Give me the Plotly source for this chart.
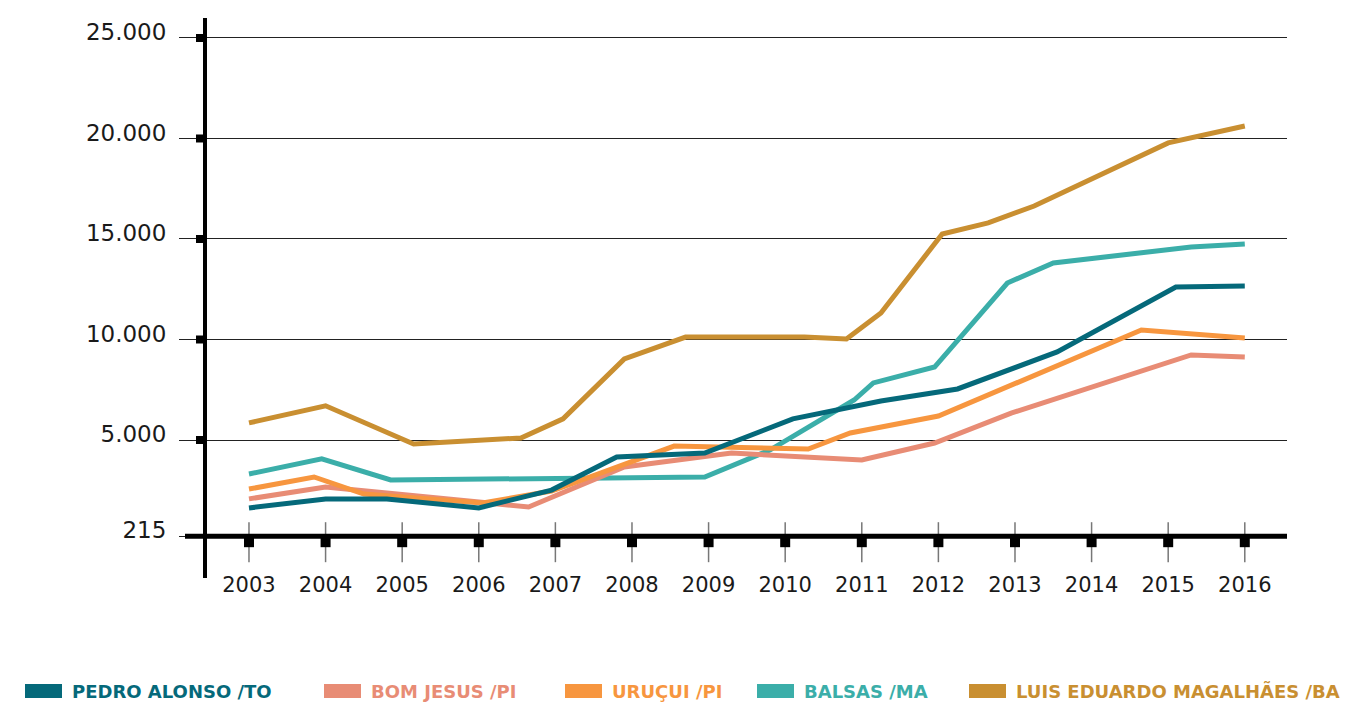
import plotly.graph_objects as go

# ---------------- data ----------------
years = list(range(2003, 2017))
ytick_vals = [215, 5000, 10000, 15000, 20000, 25000]
ytick_text = ["215", "5.000", "10.000", "15.000", "20.000", "25.000"]

pedro_x = [2003.0, 2004.0, 2004.8, 2006.0, 2006.95, 2007.8, 2008.95, 2010.1, 2011.25, 2012.25, 2013.55, 2015.1, 2016.0]
pedro_y = [1620, 2070, 2070, 1620, 2510, 4150, 4350, 6050, 6940, 7540, 9380, 12610, 12660]

bom_x = [2003.0, 2004.0, 2006.65, 2007.9, 2009.3, 2011.0, 2011.95, 2012.95, 2015.3, 2016.0]
bom_y = [2070, 2660, 1670, 3660, 4350, 4010, 4850, 6340, 9230, 9130]

uru_x = [2003.0, 2003.85, 2004.5, 2006.05, 2006.95, 2008.55, 2010.3, 2010.85, 2012.0, 2014.65, 2016.0]
uru_y = [2560, 3160, 2310, 1870, 2460, 4700, 4550, 5350, 6190, 10470, 10080]

bal_x = [2003.0, 2003.95, 2004.85, 2008.95, 2009.8, 2010.9, 2011.15, 2011.95, 2012.9, 2013.5, 2015.3, 2016.0]
bal_y = [3310, 4060, 3010, 3160, 4500, 6990, 7840, 8630, 12810, 13810, 14600, 14750]

luis_x = [2003.0, 2004.0, 2005.15, 2006.55, 2007.1, 2007.9, 2008.7, 2010.25, 2010.8, 2011.25, 2012.05, 2012.65, 2013.25, 2015.0, 2016.0]
luis_y = [5850, 6700, 4800, 5100, 6050, 9030, 10120, 10130, 10030, 11320, 15250, 15800, 16640, 19780, 20620]

names = ["PEDRO ALONSO /TO", "BOM JESUS /PI", "URUÇUI /PI", "BALSAS /MA", "LUIS EDUARDO MAGALHÃES /BA"]
colors = ["#05697A", "#E88C75", "#F7963F", "#3BAEA9", "#C98F31"]
series = [(pedro_x, pedro_y), (bom_x, bom_y), (uru_x, uru_y), (bal_x, bal_y), (luis_x, luis_y)]

# ---------------- layout geometry (pixels) ----------------
W, H = 1348, 702
L, R, T, B = 207, 61, 18, 124
PW, PH = W - L - R, H - T - B


def px(xp):
    return (xp - L) / PW


def py(yp):
    return (H - B - yp) / PH


fig = go.Figure()
order = [4, 3, 1, 2, 0]
for i in order:
    xs, ys = series[i]
    fig.add_trace(go.Scatter(x=xs, y=ys, mode="lines", name=names[i],
                             line=dict(color=colors[i], width=5),
                             showlegend=False, hoverinfo="skip"))

shapes = []
# baseline
shapes.append(dict(type="line", xref="paper", yref="y", x0=px(185), x1=1, y0=215, y1=215,
                   line=dict(color="black", width=5), layer="above"))
# x ticks: gray vertical lines + black squares
for yr in years:
    shapes.append(dict(type="line", xref="x", yref="y", ysizemode="pixel",
                       yanchor=215, x0=yr, x1=yr, y0=14, y1=-26,
                       line=dict(color="#777777", width=1.5), layer="below"))
    shapes.append(dict(type="rect", xref="x", yref="y", xsizemode="pixel", ysizemode="pixel",
                       xanchor=yr, yanchor=215, x0=-5, x1=5, y0=-1, y1=-11,
                       fillcolor="black", line=dict(width=0), layer="above"))
# y ticks squares
for v in ytick_vals[1:]:
    shapes.append(dict(type="rect", xref="paper", yref="y", xsizemode="pixel", ysizemode="pixel",
                       xanchor=0, yanchor=v, x0=-11, x1=-2, y0=-4, y1=4,
                       fillcolor="black", line=dict(width=0), layer="above"))

# legend (manual, squares + coloured text)
leg_sq = [25, 324, 565, 757, 969]
annotations = []
for i, x0 in enumerate(leg_sq):
    shapes.append(dict(type="rect", xref="paper", yref="paper", x0=px(x0), x1=px(x0 + 37),
                       y0=py(698), y1=py(684), fillcolor=colors[i], line=dict(width=0)))
    annotations.append(dict(xref="paper", yref="paper", x=px(x0 + 45), y=py(691), text=names[i],
                            showarrow=False, xanchor="left", yanchor="middle",
                            font=dict(family="DejaVu Sans", size=18, color=colors[i], weight="bold")))

fig.update_layout(
    width=W, height=H,
    margin=dict(l=L, r=R, t=T, b=B),
    paper_bgcolor="white", plot_bgcolor="white",
    shapes=shapes, annotations=annotations,
    showlegend=False,
    xaxis=dict(range=[2002.452, 2016.551], tickvals=years, ticktext=[str(y) for y in years],
               showgrid=False, zeroline=False, showline=False, ticks="",
               anchor="free", position=py(570),
               tickfont=dict(family="DejaVu Sans", size=21, color="#1a1a1a")),
    yaxis=dict(range=[-1865, 25994], tickvals=ytick_vals, ticktext=ytick_text,
               showgrid=True, gridcolor="#222222", gridwidth=1, zeroline=False,
               showline=True, linecolor="black", linewidth=4,
               ticks="outside", ticklen=24, tickcolor="#222222", tickwidth=1,
               tickfont=dict(family="DejaVu Sans", size=23, color="#1a1a1a"),
               ticklabelstandoff=8, ticklabelshift=-6),
)

fig.write_html("out.html", config={"displayModeBar": False},
               post_script="document.body.style.margin='0px';")
